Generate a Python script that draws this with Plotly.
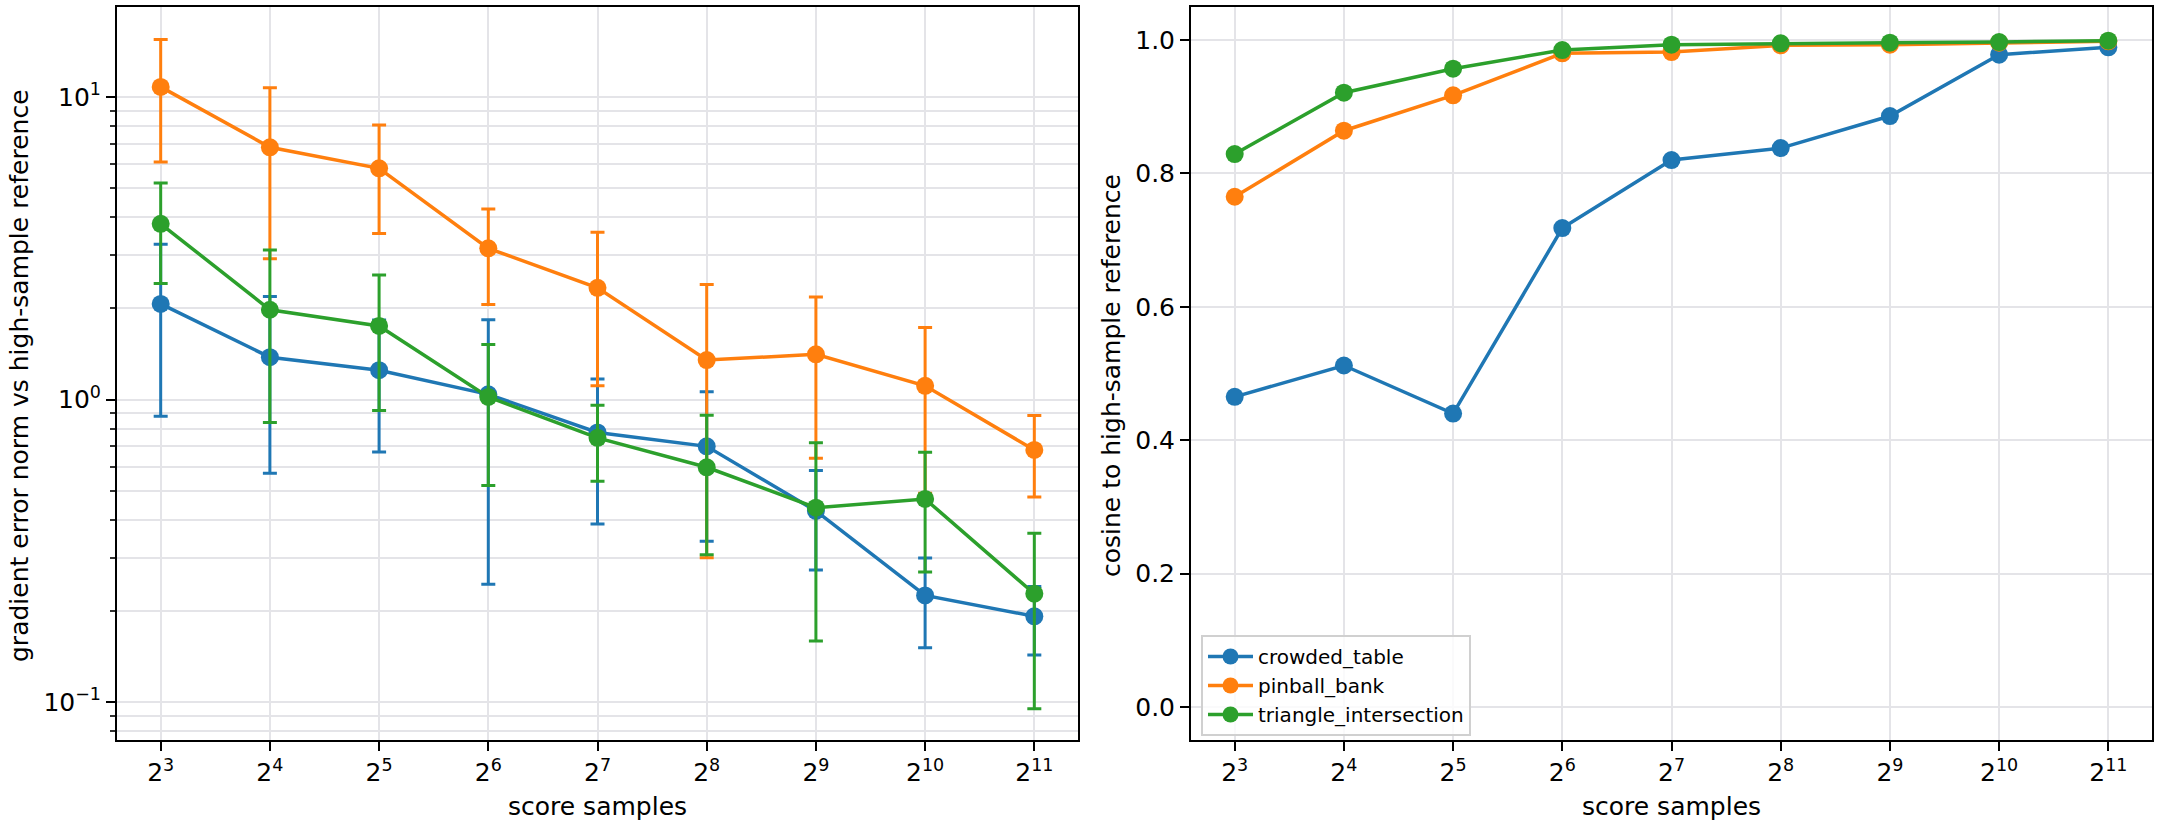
import plotly.graph_objects as go
import math

samples = [8, 16, 32, 64, 128, 256, 512, 1024, 2048]
tick_labels = ["2<sup>%d</sup>" % p for p in range(3, 12)]
series_names = ["crowded_table", "pinball_bank", "triangle_intersection"]
colors = ["#1f77b4", "#ff7f0e", "#2ca02c"]

# gradient error norm (mean) and error bar half-widths
err_crowded = [2.07, 1.38, 1.25, 1.04, 0.778, 0.700, 0.428, 0.225, 0.192]
err_crowded_sd = [1.19, 0.81, 0.58, 0.795, 0.39, 0.36, 0.155, 0.074, 0.049]
err_pinball = [10.8, 6.82, 5.81, 3.16, 2.34, 1.35, 1.41, 1.11, 0.681]
err_pinball_sd = [4.7, 3.9, 2.27, 1.1, 1.23, 1.05, 0.77, 0.62, 0.205]
err_triangle = [3.81, 1.98, 1.75, 1.02, 0.747, 0.597, 0.439, 0.469, 0.228]
err_triangle_sd = [1.39, 1.14, 0.83, 0.5, 0.21, 0.29, 0.28, 0.2, 0.133]

# cosine to high-sample reference
cos_crowded = [0.465, 0.512, 0.440, 0.718, 0.820, 0.838, 0.886, 0.978, 0.989]
cos_pinball = [0.765, 0.864, 0.917, 0.980, 0.982, 0.992, 0.993, 0.996, 0.998]
cos_triangle = [0.829, 0.921, 0.957, 0.985, 0.993, 0.995, 0.996, 0.997, 0.999]

err_means = [err_crowded, err_pinball, err_triangle]
err_sds = [err_crowded_sd, err_pinball_sd, err_triangle_sd]
cos_vals = [cos_crowded, cos_pinball, cos_triangle]

W, H = 2160, 827
FONT = "DejaVu Sans"
GRID = "#e4e4e8"
LW = 3.5
MS = 18

fig = go.Figure()
for name, col, m, sd in zip(series_names, colors, err_means, err_sds):
    fig.add_trace(go.Scatter(
        x=samples, y=m, mode="lines+markers", name=name, showlegend=False,
        line=dict(color=col, width=LW), marker=dict(color=col, size=MS),
        error_y=dict(type="data", array=sd, visible=True, color=col, thickness=3, width=7),
        xaxis="x", yaxis="y"))
for name, col, v in zip(series_names, colors, cos_vals):
    fig.add_trace(go.Scatter(
        x=samples, y=v, mode="lines+markers", name=name,
        line=dict(color=col, width=LW), marker=dict(color=col, size=MS),
        xaxis="x2", yaxis="y2"))

xr = [math.log10(2 ** 2.6), math.log10(2 ** 11.4)]
top_px, bot_px = 7, 740
ydom = [1 - bot_px / H, 1 - top_px / H]

minor_vals = [k * 10 ** e for e in (-2, -1, 0, 1) for k in range(2, 10)]

common_x = dict(type="log", range=xr, tickvals=samples, ticktext=tick_labels,
                showgrid=True, gridcolor=GRID, gridwidth=2,
                showline=True, linecolor="black", linewidth=2, mirror=True,
                ticks="outside", ticklen=9, tickwidth=2, tickcolor="black",
                tickfont=dict(family=FONT, size=25, color="black"), zeroline=False)

fig.update_layout(
    width=W, height=H, autosize=False,
    margin=dict(l=0, r=0, t=0, b=0),
    paper_bgcolor="white", plot_bgcolor="white",
    font=dict(family=FONT, color="black"),
    xaxis=dict(domain=[117 / W, 1078 / W], anchor="y", **common_x),
    xaxis2=dict(domain=[1191 / W, 2152 / W], anchor="y2", **common_x),
    yaxis=dict(domain=ydom, anchor="x", type="log", range=[-1.1256, 1.2975],
               tickvals=[0.1, 1, 10],
               ticktext=["10<sup>\u22121</sup>", "10<sup>0</sup>", "10<sup>1</sup>"],
               showgrid=True, gridcolor=GRID, gridwidth=2,
               minor=dict(tickvals=minor_vals, showgrid=True, gridcolor=GRID, gridwidth=2,
                          ticks="outside", ticklen=5, tickwidth=2, tickcolor="#333"),
               showline=True, linecolor="black", linewidth=2, mirror=True,
               ticks="outside", ticklen=9, tickwidth=2, tickcolor="black",
               tickfont=dict(family=FONT, size=25, color="black"), zeroline=False),
    yaxis2=dict(domain=ydom, anchor="x2", range=[-0.0495, 1.0495],
                tickvals=[0, 0.2, 0.4, 0.6, 0.8, 1.0], tickformat=".1f",
                showgrid=True, gridcolor=GRID, gridwidth=2,
                showline=True, linecolor="black", linewidth=2, mirror=True,
                ticks="outside", ticklen=9, tickwidth=2, tickcolor="black",
                tickfont=dict(family=FONT, size=25, color="black"), zeroline=False),
    legend=dict(x=1201 / W, y=1 - 635 / H, xanchor="left", yanchor="top",
                bgcolor="rgba(255,255,255,0.8)", bordercolor="#d0d0d0", borderwidth=2,
                font=dict(family=FONT, size=20, color="black"),
                tracegroupgap=0, itemwidth=45),
    showlegend=True,
    annotations=[
        dict(text="score samples", x=(117 + 1078) / 2 / W, y=1 - 806 / H, xref="paper", yref="paper",
             showarrow=False, font=dict(family=FONT, size=25, color="black"), xanchor="center", yanchor="middle"),
        dict(text="score samples", x=(1191 + 2152) / 2 / W, y=1 - 806 / H, xref="paper", yref="paper",
             showarrow=False, font=dict(family=FONT, size=25, color="black"), xanchor="center", yanchor="middle"),
        dict(text="gradient error norm vs high-sample reference", x=19 / W, y=1 - 376 / H,
             xref="paper", yref="paper", showarrow=False, textangle=-90,
             font=dict(family=FONT, size=25, color="black"), xanchor="center", yanchor="middle"),
        dict(text="cosine to high-sample reference", x=1111 / W, y=1 - 376 / H,
             xref="paper", yref="paper", showarrow=False, textangle=-90,
             font=dict(family=FONT, size=25, color="black"), xanchor="center", yanchor="middle"),
    ],
)

fig.write_html("out.html", config={"displayModeBar": False})
